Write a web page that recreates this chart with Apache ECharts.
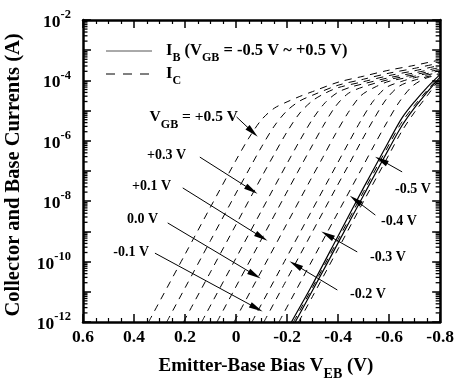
<!DOCTYPE html>
<html><head><meta charset="utf-8">
<script src="https://cdn.jsdelivr.net/npm/echarts@6/dist/echarts.min.js"></script>
<style>html,body{margin:0;padding:0;background:#fff}#c{width:457px;height:382px}</style>
</head><body><div id="c"></div>
<script>
// ---- data: [V_EB (V), log10(current in A)] ----
const vgbValues = ['+0.5', '+0.4', '+0.3', '+0.2', '+0.1', '0.0', '-0.1', '-0.2', '-0.3', '-0.4', '-0.5'];
const IC_P05 = [[0.343,-12],[0.2,-9.76],[0.1,-8.19],[0.0,-6.64],[-0.05,-5.91],[-0.1,-5.30],[-0.15,-4.92],[-0.2,-4.71],[-0.25,-4.53],[-0.3,-4.37],[-0.4,-4.06],[-0.5,-3.86],[-0.6,-3.66],[-0.7,-3.50],[-0.8,-3.32]];
const IC_P04 = [[0.272,-12],[0.2,-10.87],[0.1,-9.30],[0.0,-7.73],[-0.05,-6.96],[-0.1,-6.20],[-0.15,-5.51],[-0.2,-5.00],[-0.25,-4.68],[-0.3,-4.49],[-0.4,-4.16],[-0.5,-3.96],[-0.6,-3.76],[-0.7,-3.60],[-0.8,-3.42]];
const IC_P03 = [[0.206,-12],[0.1,-10.34],[0.0,-8.77],[-0.1,-7.20],[-0.15,-6.44],[-0.2,-5.70],[-0.25,-5.08],[-0.3,-4.67],[-0.35,-4.42],[-0.4,-4.24],[-0.5,-4.04],[-0.6,-3.84],[-0.7,-3.68],[-0.8,-3.50]];
const IC_P02 = [[0.135,-12],[0.0,-9.88],[-0.1,-8.31],[-0.2,-6.75],[-0.25,-5.99],[-0.3,-5.28],[-0.35,-4.73],[-0.4,-4.39],[-0.45,-4.22],[-0.5,-4.11],[-0.6,-3.91],[-0.7,-3.75],[-0.8,-3.57]];
const IC_P01 = [[0.075,-12],[0.01,-10.98],[-0.09,-9.41],[-0.19,-7.84],[-0.24,-7.06],[-0.29,-6.29],[-0.34,-5.53],[-0.39,-4.86],[-0.44,-4.43],[-0.5,-4.21],[-0.6,-3.97],[-0.7,-3.81],[-0.8,-3.63]];
const IC_000 = [[0.008,-12],[-0.09,-10.46],[-0.19,-8.89],[-0.29,-7.32],[-0.34,-6.55],[-0.39,-5.77],[-0.44,-5.06],[-0.49,-4.50],[-0.55,-4.20],[-0.6,-4.03],[-0.7,-3.86],[-0.8,-3.68]];
const IC_M01 = [[-0.062,-12],[-0.19,-9.99],[-0.29,-8.42],[-0.39,-6.86],[-0.44,-6.08],[-0.49,-5.32],[-0.54,-4.66],[-0.59,-4.23],[-0.65,-4.03],[-0.7,-3.91],[-0.8,-3.73]];
const IC_M02 = [[-0.109,-12],[-0.19,-10.73],[-0.29,-9.16],[-0.39,-7.59],[-0.44,-6.82],[-0.49,-6.03],[-0.54,-5.28],[-0.59,-4.61],[-0.64,-4.19],[-0.7,-3.99],[-0.8,-3.77]];
const IC_M03 = [[-0.168,-12],[-0.29,-10.09],[-0.39,-8.52],[-0.49,-6.96],[-0.54,-6.17],[-0.59,-5.41],[-0.64,-4.71],[-0.69,-4.20],[-0.74,-3.94],[-0.8,-3.80]];
const IC_M04 = [[-0.225,-12],[-0.3,-10.85],[-0.4,-9.27],[-0.5,-7.68],[-0.6,-6.12],[-0.65,-5.38],[-0.7,-4.82],[-0.75,-4.32],[-0.8,-3.84]];
const IC_M05 = [[-0.245,-12],[-0.3,-11.15],[-0.4,-9.58],[-0.5,-8.00],[-0.6,-6.45],[-0.65,-5.68],[-0.7,-5.05],[-0.75,-4.50],[-0.8,-3.92]];
const IB_A = [[-0.217,-12],[-0.3,-10.75],[-0.4,-9.15],[-0.5,-7.55],[-0.6,-6.00],[-0.65,-5.25],[-0.7,-4.70],[-0.75,-4.22],[-0.8,-3.80]];
const IB_B = [[-0.232,-12],[-0.3,-10.95],[-0.4,-9.38],[-0.5,-7.80],[-0.6,-6.25],[-0.65,-5.50],[-0.7,-4.90],[-0.75,-4.38],[-0.8,-3.88]];
// annotation arrows: [from, to] in [V_EB, log10 I]
const arrowFrom = [[-0.002,-5.21],[0.142,-6.54],[0.209,-7.56],[0.268,-8.72],[0.318,-9.72],[-0.651,-7.03],[-0.546,-8.46],[-0.475,-9.68],[-0.397,-10.94]];
const arrowTo   = [[-0.065,-5.71],[-0.061,-7.63],[-0.100,-9.19],[-0.073,-10.44],[-0.080,-11.54],[-0.569,-6.64],[-0.468,-7.96],[-0.358,-9.12],[-0.233,-10.11]];
const X_MIN = -0.8, X_MAX = 0.6, Y_MIN_EXP = -12, Y_MAX_EXP = -2;

const FONT = "'Liberation Serif','Times New Roman',serif";
const chart = echarts.init(document.getElementById('c'), null, {renderer: 'canvas'});
const toPts = arr => arr.map(p => [p[0], Math.pow(10, p[1])]);
const icCurves = [IC_P05, IC_P04, IC_P03, IC_P02, IC_P01, IC_000, IC_M01, IC_M02, IC_M03, IC_M04, IC_M05];
const ibCurves = [IB_A, IB_B];

const series = [];
icCurves.forEach((c, i) => series.push({
  type: 'line', name: 'IC ' + vgbValues[i], data: toPts(c), symbol: 'none', smooth: 0.3, clip: true,
  lineStyle: {type: [7, 6], width: 1, color: '#000'}, z: 3, animation: false
}));
ibCurves.forEach((c, i) => series.push({
  type: 'line', name: 'IB ' + i, data: toPts(c), symbol: 'none', smooth: 0.3, clip: true,
  lineStyle: {type: 'solid', width: 1.2, color: '#000'}, z: 4, animation: false
}));
series.push({
  type: 'line', name: 'arrows', data: [], animation: false,
  markLine: {
    silent: true, animation: false, symbol: ['none', 'triangle'], symbolSize: [6, 14],
    lineStyle: {type: 'solid', color: '#000', width: 1}, label: {show: false},
    data: arrowFrom.map((f, i) => [{coord: [f[0], Math.pow(10, f[1])]}, {coord: [arrowTo[i][0], Math.pow(10, arrowTo[i][1])]}])
  }
});

const axisLineStyle = {color: '#000', width: 2.5};
const xBase = {
  type: 'value', inverse: true, min: X_MIN, max: X_MAX, interval: 0.2,
  axisLine: {show: true, onZero: false, lineStyle: axisLineStyle},
  axisTick: {show: true, inside: true, length: 8, lineStyle: {color: '#000', width: 1.5}},
  minorTick: {show: true, splitNumber: 4, length: 4, lineStyle: {color: '#000', width: 1.2}},
  splitLine: {show: false}, minorSplitLine: {show: false}
};
const yBase = {
  type: 'log', logBase: 10, min: Math.pow(10, Y_MIN_EXP), max: Math.pow(10, Y_MAX_EXP), interval: 1,
  axisLine: {show: true, onZero: false, lineStyle: axisLineStyle},
  axisTick: {show: true, inside: true, length: 8, lineStyle: {color: '#000', width: 1.5}},
  splitLine: {show: false}
};

chart.setOption({
  animation: false,
  backgroundColor: '#fff',
  grid: {left: 83, right: 16, top: 20, bottom: 60, containLabel: false},
  xAxis: [
    Object.assign({}, xBase, {position: 'bottom', axisLabel: {
      color: '#000', fontFamily: FONT, fontSize: 17.5, fontWeight: 'bold', margin: 6,
      formatter: v => { const r = Math.round(v * 10) / 10; return r === 0 ? '0' : r.toFixed(1); }
    }}),
    Object.assign({}, xBase, {position: 'top', axisLabel: {show: false}})
  ],
  yAxis: [
    Object.assign({}, yBase, {position: 'left', axisLabel: {
      color: '#000', margin: 12,
      formatter: v => { const e = Math.round(Math.log10(v)); return (e % 2 === 0) ? '{b|10}{s|' + e + '}' : ''; },
      rich: {
        b: {fontFamily: FONT, fontSize: 17.5, fontWeight: 'bold', color: '#000', verticalAlign: 'bottom', lineHeight: 23},
        s: {fontFamily: FONT, fontSize: 12.5, fontWeight: 'bold', color: '#000', verticalAlign: 'top', lineHeight: 23}
      }
    }}),
    Object.assign({}, yBase, {position: 'right', axisLabel: {show: false}})
  ],
  series: series
});

// ---- graphic: log minor ticks, legend, titles, annotation labels ----
const g = [];
const xL = chart.convertToPixel({xAxisIndex: 0}, X_MAX);
const xR = chart.convertToPixel({xAxisIndex: 0}, X_MIN);
for (let e = Y_MIN_EXP; e < Y_MAX_EXP; e++) {
  for (let m = 2; m <= 9; m++) {
    const y = chart.convertToPixel({yAxisIndex: 0}, m * Math.pow(10, e));
    g.push({type: 'line', silent: true, shape: {x1: xL, y1: y, x2: xL + 4.5, y2: y}, style: {stroke: '#000', lineWidth: 1.3}});
    g.push({type: 'line', silent: true, shape: {x1: xR - 4.5, y1: y, x2: xR, y2: y}, style: {stroke: '#000', lineWidth: 1.3}});
  }
}
const richTxt = (size, subRatio) => ({
  n: {fontFamily: FONT, fontSize: size, fontWeight: 'bold', fill: '#000', verticalAlign: 'top', lineHeight: size + 6},
  u: {fontFamily: FONT, fontSize: Math.round(size * (subRatio || 0.72)), fontWeight: 'bold', fill: '#000', verticalAlign: 'bottom', lineHeight: size + 6}
});
function txt(x, y, text, size, align, rot, subRatio) {
  return {type: 'text', silent: true, x: x, y: y, rotation: rot || 0,
    style: {text: text, rich: richTxt(size, subRatio), align: align || 'left', verticalAlign: 'middle', fill: '#000'}};
}
// legend
g.push({type: 'line', silent: true, shape: {x1: 106, y1: 51, x2: 152, y2: 51}, style: {stroke: '#555', lineWidth: 1}});
g.push({type: 'line', silent: true, shape: {x1: 106, y1: 74, x2: 152, y2: 74}, style: {stroke: '#000', lineWidth: 1, lineDash: [9, 8]}});
g.push(txt(166, 53, '{n|I}{u|B}{n| (V}{u|GB}{n| = -0.5 V ~ +0.5 V)}', 16.5, 'left'));
g.push(txt(166, 76, '{n|I}{u|C}', 16.5, 'left'));
// axis titles
g.push(txt(266, 369, '{n|Emitter-Base Bias V}{u|EB}{n| (V)}', 19, 'center'));
g.push(txt(16, 175, '{n|Collector and Base Currents (A)}', 20.5, 'center', Math.PI / 2));
// annotation labels
g.push(txt(238, 120, '{n|V}{u|GB}{n| = +0.5 V}', 15.5, 'right', 0, 0.8));
g.push(txt(186, 158, '{n|+0.3 V}', 14, 'right'));
g.push(txt(171, 189, '{n|+0.1 V}', 14, 'right'));
g.push(txt(158, 222, '{n|0.0 V}', 14, 'right'));
g.push(txt(149, 255, '{n|-0.1 V}', 14, 'right'));
g.push(txt(395, 192, '{n|-0.5 V}', 14, 'left'));
g.push(txt(381, 224, '{n|-0.4 V}', 14, 'left'));
g.push(txt(370, 260, '{n|-0.3 V}', 14, 'left'));
g.push(txt(350, 297, '{n|-0.2 V}', 14, 'left'));
chart.setOption({graphic: g});
</script></body></html>
